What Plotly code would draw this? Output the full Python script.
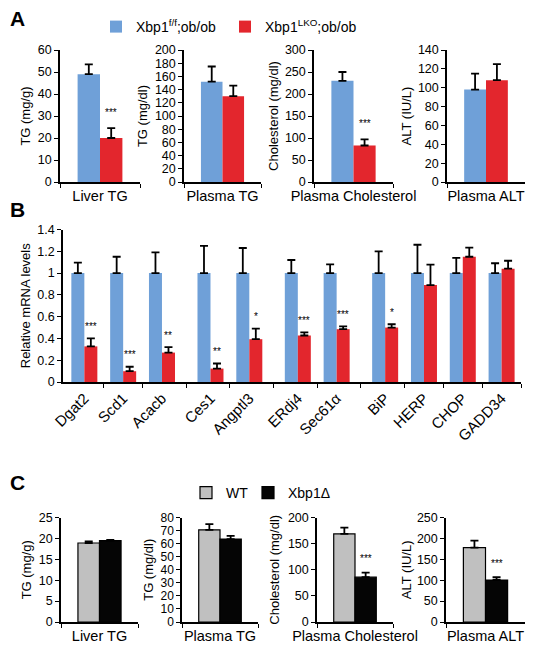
import plotly.graph_objects as go

W, H = 536, 656
FONT = "Liberation Sans, Arial, Helvetica, sans-serif"
BLUE = "#6fa0d8"
RED = "#e3262d"
GRAY = "#c0c0c0"
BLACK = "#050505"

# ---------------- Panel A data ----------------
a_categories = ["Liver TG", "Plasma TG", "Plasma Cholesterol", "Plasma ALT"]
a_ytitles = ["TG (mg/g)", "TG (mg/dl)", "Cholesterol (mg/dl)", "ALT (IU/L)"]
a_flox = [49, 152, 230, 98]
a_flox_err = [4.5, 23, 20, 17]
a_lko = [20, 130, 83, 108]
a_lko_err = [4.5, 16, 14, 17]
a_ymax = [60, 200, 300, 140]
a_dtick = [10, 20, 50, 20]
a_sig = ["***", "", "***", ""]
a_names = ["Xbp1<sup>f/f</sup>;ob/ob", "Xbp1<sup>LKO</sup>;ob/ob"]

# ---------------- Panel B data ----------------
b_genes = ["Dgat2", "Scd1", "Acacb", "Ces1", "Angptl3", "ERdj4", "Sec61\u03b1",
           "BiP", "HERP", "CHOP", "GADD34"]
b_group = [0, 0, 0, 1, 1, 2, 2, 3, 3, 3, 3]
b_flox = [1, 1, 1, 1, 1, 1, 1, 1, 1, 1, 1]
b_flox_err = [0.095, 0.15, 0.19, 0.25, 0.23, 0.12, 0.08, 0.20, 0.26, 0.14, 0.09]
b_lko = [0.327, 0.099, 0.27, 0.123, 0.393, 0.427, 0.485, 0.50, 0.89, 1.15, 1.04]
b_lko_err = [0.073, 0.041, 0.05, 0.047, 0.097, 0.028, 0.025, 0.03, 0.187, 0.083, 0.073]
b_sig = ["***", "***", "**", "**", "*", "***", "***", "*", "", "", ""]

# ---------------- Panel C data ----------------
c_categories = ["Liver TG", "Plasma TG", "Plasma Cholesterol", "Plasma ALT"]
c_ytitles = ["TG (mg/g)", "TG (mg/dl)", "Cholesterol (mg/dl)", "ALT (IU/L)"]
c_wt = [18.9, 70.6, 168.6, 177.7]
c_wt_err = [0.4, 4.3, 12.2, 17]
c_ko = [19.45, 63.5, 85.7, 100.5]
c_ko_err = [0.2, 2.5, 8.9, 6.5]
c_ymax = [25, 80, 200, 250]
c_dtick = [5, 10, 50, 50]
c_sig = ["", "", "***", "***"]
c_names = ["WT", "Xbp1\u0394"]


def px_x(p):
    return p / W


def px_y(p):
    return 1 - p / H


fig = go.Figure()
layout = dict(
    width=W, height=H, margin=dict(l=0, r=0, t=0, b=0, autoexpand=False),
    paper_bgcolor="white", plot_bgcolor="white",
    font=dict(family=FONT, size=13, color="black"),
    barmode="overlay",
)
annotations = []

BW = 0.28  # bar width for small panels


def err(arr):
    return dict(type="data", array=arr, arrayminus=[0] * len(arr), symmetric=False,
                color="black", thickness=1.8, width=4)


def small_axes(idx, xdom, ydom, ymax, dtick, ytitle, standoff, tsize):
    xa = "xaxis" if idx == 1 else f"xaxis{idx}"
    ya = "yaxis" if idx == 1 else f"yaxis{idx}"
    layout[xa] = dict(domain=[px_x(xdom[0]), px_x(xdom[1])], anchor=f"y{idx}" if idx > 1 else "y",
                      type="category", range=[-0.5, 0.5], showline=True, linecolor="black",
                      linewidth=1.5, ticks="outside", tickson="boundaries", ticklen=4,
                      tickcolor="black", showgrid=False, zeroline=False, tickangle=0,
                      automargin=False, ticklabeloverflow="allow",
                      tickfont=dict(size=14.5), fixedrange=True)
    layout[ya] = dict(domain=[px_y(ydom[1]), px_y(ydom[0])], anchor=f"x{idx}" if idx > 1 else "x",
                      range=[0, ymax], dtick=dtick, showline=True, linecolor="black",
                      linewidth=1.5, ticks="outside", ticklen=4, tickcolor="black",
                      showgrid=False, zeroline=False, tickfont=dict(size=tsize), automargin=False,
                      fixedrange=True,
                      title=dict(text=ytitle, font=dict(size=13), standoff=standoff))


def legend_box(px, py):
    return dict(orientation="h", x=px_x(px), y=px_y(py), xanchor="left", yanchor="middle",
                font=dict(size=14), bgcolor="rgba(0,0,0,0)", itemclick=False,
                itemdoubleclick=False)


# Panel A
a_xdoms = [(60, 140), (184, 261), (314, 393), (447, 525)]
a_standoff = [4, 4, 3, 3]
a_ydom = (50, 182)
for i in range(4):
    idx = i + 1
    xs = "x" if idx == 1 else f"x{idx}"
    ys = "y" if idx == 1 else f"y{idx}"
    small_axes(idx, a_xdoms[i], a_ydom, a_ymax[i], a_dtick[i], a_ytitles[i], a_standoff[i], 12.5)
    fig.add_trace(go.Bar(x=[a_categories[i]], y=[a_flox[i]], error_y=err([a_flox_err[i]]),
                         marker=dict(color=BLUE, line=dict(width=0)), width=BW, offset=-BW,
                         name=a_names[0], showlegend=(i == 0), legend="legend",
                         xaxis=xs, yaxis=ys))
    fig.add_trace(go.Bar(x=[a_categories[i]], y=[a_lko[i]], error_y=err([a_lko_err[i]]),
                         marker=dict(color=RED, line=dict(width=0)), width=BW, offset=0,
                         name=a_names[1], showlegend=(i == 0), legend="legend2",
                         xaxis=xs, yaxis=ys))
    if a_sig[i]:
        annotations.append(dict(x=a_categories[i], y=a_lko[i] + a_lko_err[i] + 0.06 * a_ymax[i],
                                xref=xs, yref=ys, text=a_sig[i], showarrow=False,
                                xshift=BW / 2 * (a_xdoms[i][1] - a_xdoms[i][0]),
                                yanchor="bottom", font=dict(size=10, color="black")))

# Panel B
b_x = [i + 0.25 * g for i, g in enumerate(b_group)]
b_bounds = [(b_x[i] + b_x[i + 1]) / 2 for i in range(len(b_x) - 1)] + [b_x[-1] + 0.5]
BBW = 0.335
layout["xaxis5"] = dict(domain=[px_x(63), px_x(521)], anchor="y5", range=[-0.55, b_x[-1] + 0.5],
                        showline=True, linecolor="black", linewidth=1.5, tickvals=b_x,
                        ticktext=b_genes, ticks="", tickangle=-45, showgrid=False,
                        zeroline=False, tickfont=dict(size=15), automargin=False,
                        ticklabeloverflow="allow", fixedrange=True,
                        minor=dict(tickvals=b_bounds, ticks="outside", ticklen=4,
                                   tickcolor="black", showgrid=False))
layout["yaxis5"] = dict(domain=[px_y(382), px_y(229.5)], anchor="x5", range=[0, 1.4], dtick=0.2,
                        showline=True, linecolor="black", linewidth=1.5, ticks="outside",
                        ticklen=4, tickcolor="black", showgrid=False, zeroline=False,
                        tickfont=dict(size=12.5), automargin=False, fixedrange=True,
                        title=dict(text="Relative mRNA levels", font=dict(size=13), standoff=4))
fig.add_trace(go.Bar(x=b_x, y=b_flox, error_y=err(b_flox_err), width=BBW, offset=-BBW,
                     marker=dict(color=BLUE, line=dict(width=0)), name=a_names[0],
                     showlegend=False, xaxis="x5", yaxis="y5"))
fig.add_trace(go.Bar(x=b_x, y=b_lko, error_y=err(b_lko_err), width=BBW, offset=0,
                     marker=dict(color=RED, line=dict(width=0)), name=a_names[1],
                     showlegend=False, xaxis="x5", yaxis="y5"))
for i, s in enumerate(b_sig):
    if s:
        annotations.append(dict(x=b_x[i] + BBW / 2, y=b_lko[i] + b_lko_err[i] + 0.04,
                                xref="x5", yref="y5", text=s, showarrow=False,
                                yanchor="bottom", font=dict(size=10, color="black")))

# Panel C
c_xdoms = [(61, 138), (182, 258), (317, 393), (446, 525)]
c_standoff = [4, 4, 5, 2]
c_tsize = [12.5, 12, 12.5, 12.5]
c_ydom = (517.5, 622)
for i in range(4):
    idx = i + 6
    xs, ys = f"x{idx}", f"y{idx}"
    small_axes(idx, c_xdoms[i], c_ydom, c_ymax[i], c_dtick[i], c_ytitles[i], c_standoff[i],
               c_tsize[i])
    fig.add_trace(go.Bar(x=[c_categories[i]], y=[c_wt[i]], error_y=err([c_wt_err[i]]),
                         marker=dict(color=GRAY, line=dict(width=1.2, color="black")),
                         width=BW, offset=-BW, name=c_names[0], showlegend=(i == 0),
                         legend="legend3", xaxis=xs, yaxis=ys))
    fig.add_trace(go.Bar(x=[c_categories[i]], y=[c_ko[i]], error_y=err([c_ko_err[i]]),
                         marker=dict(color=BLACK, line=dict(width=1.2, color="black")),
                         width=BW, offset=0, name=c_names[1], showlegend=(i == 0),
                         legend="legend4", xaxis=xs, yaxis=ys))
    if c_sig[i]:
        annotations.append(dict(x=c_categories[i], y=c_ko[i] + c_ko_err[i] + 0.06 * c_ymax[i],
                                xref=xs, yref=ys, text=c_sig[i], showarrow=False,
                                xshift=BW / 2 * (c_xdoms[i][1] - c_xdoms[i][0]),
                                yanchor="bottom", font=dict(size=10, color="black")))

# Panel letters
for letter, py in [("A", 19), ("B", 210), ("C", 482)]:
    annotations.append(dict(x=px_x(8), y=px_y(py), xref="paper", yref="paper", text=f"<b>{letter}</b>",
                            showarrow=False, xanchor="left", yanchor="middle",
                            font=dict(size=21, family=FONT, color="black")))

layout["annotations"] = annotations
layout["legend"] = legend_box(96, 27)
layout["legend2"] = legend_box(225, 27)
layout["legend3"] = legend_box(186, 493)
layout["legend4"] = legend_box(248, 493)
fig.update_layout(**layout)
fig.write_html("out.html", config={"displayModeBar": False, "staticPlot": False},
               post_script="document.body.style.margin='0';")
